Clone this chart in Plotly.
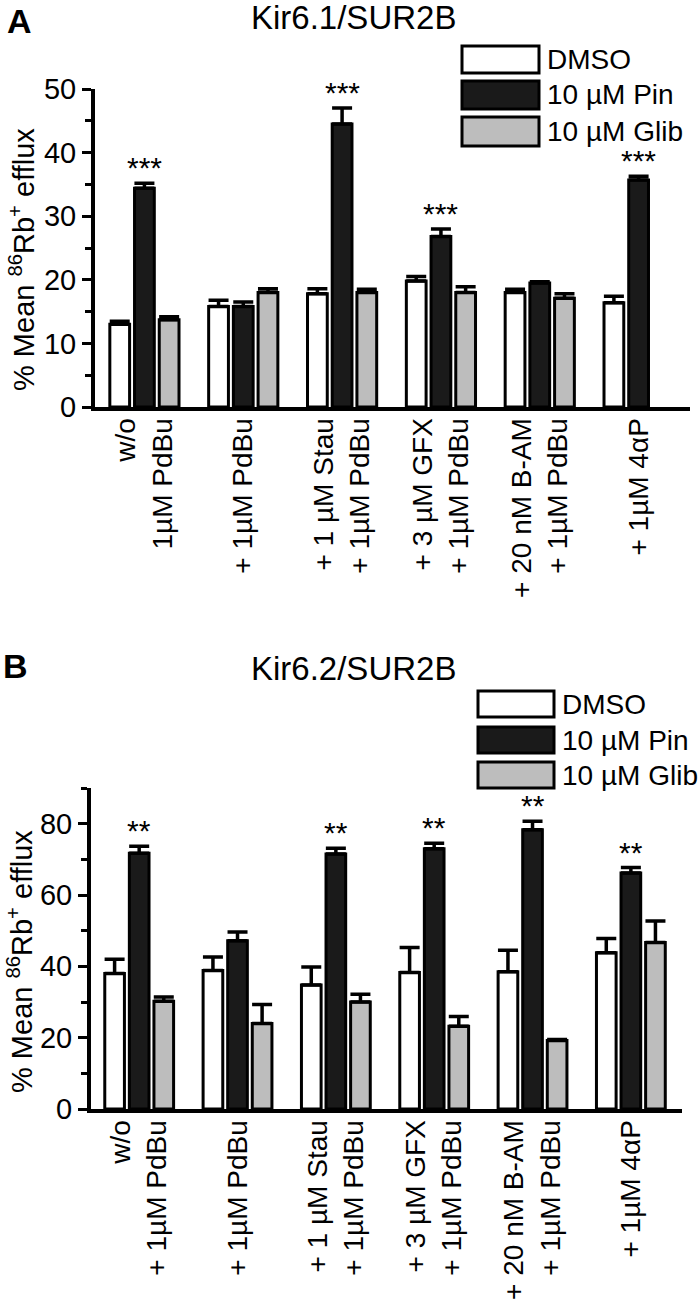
import plotly.graph_objects as go

# ---------------- data ----------------
series = ["DMSO", "10 µM Pin", "10 µM Glib"]

cats_a = ["w/o<br>1µM PdBu", "+ 1µM PdBu", "+ 1 µM Stau<br>+ 1µM PdBu",
          "+ 3 µM GFX<br>+ 1µM PdBu", "+ 20 nM B-AM<br>+ 1µM PdBu", "+ 1µM 4αP"]
dmso_a = [13.0, 15.8, 17.8, 19.8, 18.0, 16.4]
dmso_a_err = [0.5, 1.0, 0.8, 0.7, 0.5, 1.0]
pin_a = [34.4, 15.8, 44.5, 26.8, 19.5, 35.7]
pin_a_err = [0.8, 0.7, 2.5, 1.2, 0.2, 0.6]
glib_a = [13.7, 18.0, 18.0, 18.0, 17.1, None]
glib_a_err = [0.5, 0.6, 0.5, 0.9, 0.7, 0]
stars_a = ["***", "", "***", "***", "", "***"]

cats_b = ["w/o<br>+ 1µM PdBu", "+ 1µM PdBu", "+ 1 µM Stau<br>+ 1µM PdBu",
          "+ 3 µM GFX<br>+ 1µM PdBu", "+ 20 nM B-AM<br>+ 1µM PdBu", "+ 1µM 4αP"]
dmso_b = [38.0, 38.8, 34.8, 38.3, 38.5, 43.8]
dmso_b_err = [4.0, 3.8, 5.0, 7.0, 6.0, 4.0]
pin_b = [71.7, 47.2, 71.5, 73.0, 78.3, 66.2]
pin_b_err = [2.0, 2.4, 1.6, 1.5, 2.4, 1.5]
glib_b = [30.2, 24.0, 30.0, 23.2, 19.2, 46.7]
glib_b_err = [1.2, 5.3, 2.2, 2.7, 0.3, 6.0]
stars_b = ["**", "", "**", "**", "**", "**"]

titles = ["Kir6.1/SUR2B", "Kir6.2/SUR2B"]
panel_letters = ["A", "B"]
ytitle = "% Mean <sup>86</sup>Rb<sup>+</sup> efflux"

# ---------------- style ----------------
FONT = "Liberation Sans, Arial, Helvetica, sans-serif"
fills = ["#ffffff", "#1a1a1a", "#bdbdbd"]
W, H = 700, 1310


def px(x):
    return x / W


def py(y):
    return 1 - y / H


fig = go.Figure()

panels = [
    dict(cats=cats_a, vals=[dmso_a, pin_a, glib_a], errs=[dmso_a_err, pin_a_err, glib_a_err],
         stars=stars_a, xa="x", ya="y"),
    dict(cats=cats_b, vals=[dmso_b, pin_b, glib_b], errs=[dmso_b_err, pin_b_err, glib_b_err],
         stars=stars_b, xa="x2", ya="y2"),
]

for p in panels:
    for k in range(3):
        fig.add_trace(go.Bar(
            x=p["cats"], y=p["vals"][k], name=series[k],
            marker=dict(color=fills[k], line=dict(color="black", width=3)),
            error_y=dict(type="data", symmetric=False, array=p["errs"][k],
                         arrayminus=[0] * len(p["cats"]), color="black",
                         thickness=3.5, width=10),
            xaxis=p["xa"], yaxis=p["ya"], showlegend=False,
        ))
    # significance stars above the Pin bars
    for c, v, e, s in zip(p["cats"], p["vals"][1], p["errs"][1], p["stars"]):
        if s:
            fig.add_annotation(x=c, y=v + e, xref=p["xa"], yref=p["ya"], text=s,
                               showarrow=False, yanchor="bottom", yshift=-3,
                               font=dict(family=FONT, size=30, color="black"))

axis_common = dict(showline=True, linewidth=4, linecolor="black", showgrid=False,
                   zeroline=False, automargin=False)
xcommon = dict(axis_common, type="category", ticks="", tickangle=-90,
               ticklabelstandoff=-4,
               tickfont=dict(family=FONT, size=28, color="black"))
ycommon = dict(axis_common, ticks="outside", ticklen=9, tickwidth=3, tickcolor="black",
               tickfont=dict(family=FONT, size=29, color="black"))

fig.update_layout(
    width=W, height=H, autosize=False,
    margin=dict(l=0, r=0, t=0, b=0, pad=0, autoexpand=False),
    paper_bgcolor="white", plot_bgcolor="white",
    barmode="group", bargap=0.25, bargroupgap=0.2,
    font=dict(family=FONT, color="black"),
    xaxis=dict(xcommon, domain=[px(95), px(690)], anchor="y", range=[-0.5, 5.52]),
    yaxis=dict(ycommon, domain=[py(407), py(89)], anchor="x", range=[0, 50], dtick=10,
               minor=dict(dtick=5, ticks="outside", ticklen=6, tickwidth=3, tickcolor="black")),
    xaxis2=dict(xcommon, domain=[px(91), px(682)], anchor="y2", range=[-0.49, 5.52]),
    yaxis2=dict(ycommon, domain=[py(1109), py(788)], anchor="x2", range=[0, 90], dtick=20,
                tick0=0,
                minor=dict(dtick=10, ticks="outside", ticklen=6, tickwidth=3, tickcolor="black")),
)

# titles, panel letters, y titles
title_y = [17, 668]
letter_pos = [(19, 21), (15, 666)]
ytitle_pos = [(22, 260), (20, 962)]
for i in range(2):
    fig.add_annotation(x=px(354), y=py(title_y[i]), xref="paper", yref="paper",
                       text=titles[i], showarrow=False, xanchor="center", yanchor="middle",
                       borderpad=0,
                       font=dict(family=FONT, size=33, color="black"))
    fig.add_annotation(x=px(letter_pos[i][0]), y=py(letter_pos[i][1]), xref="paper", yref="paper",
                       text="<b>%s</b>" % panel_letters[i], showarrow=False,
                       xanchor="center", yanchor="middle", borderpad=0,
                       font=dict(family=FONT, size=34, color="black"))
    fig.add_annotation(x=px(ytitle_pos[i][0]), y=py(ytitle_pos[i][1]), xref="paper", yref="paper",
                       text=ytitle, showarrow=False, textangle=-90,
                       xanchor="center", yanchor="middle",
                       font=dict(family=FONT, size=29, color="black"))

# custom legends (wide boxes as in the original)
legend_boxes = [
    dict(x0=462, x1=539, rows=[(46, 73), (81, 109), (117, 146)], tx=546),
    dict(x0=478, x1=554, rows=[(691, 717), (727, 753), (762, 788)], tx=561),
]
for lg in legend_boxes:
    for k, (y0, y1) in enumerate(lg["rows"]):
        fig.add_shape(type="rect", xref="paper", yref="paper",
                      x0=px(lg["x0"]), x1=px(lg["x1"]), y0=py(y1), y1=py(y0),
                      fillcolor=fills[k], line=dict(color="black", width=3))
        fig.add_annotation(x=px(lg["tx"]), y=py((y0 + y1) / 2), xref="paper", yref="paper",
                           text=series[k], showarrow=False, xanchor="left", yanchor="middle",
                           borderpad=0,
                           font=dict(family=FONT, size=28, color="black"))

# the page body has a default 8px margin; remove it so the 700x1310 figure fills the window
fig.write_html("out.html",
               config={"displayModeBar": False, "staticPlot": True},
               post_script="document.body.style.margin='0';document.body.style.padding='0';")
